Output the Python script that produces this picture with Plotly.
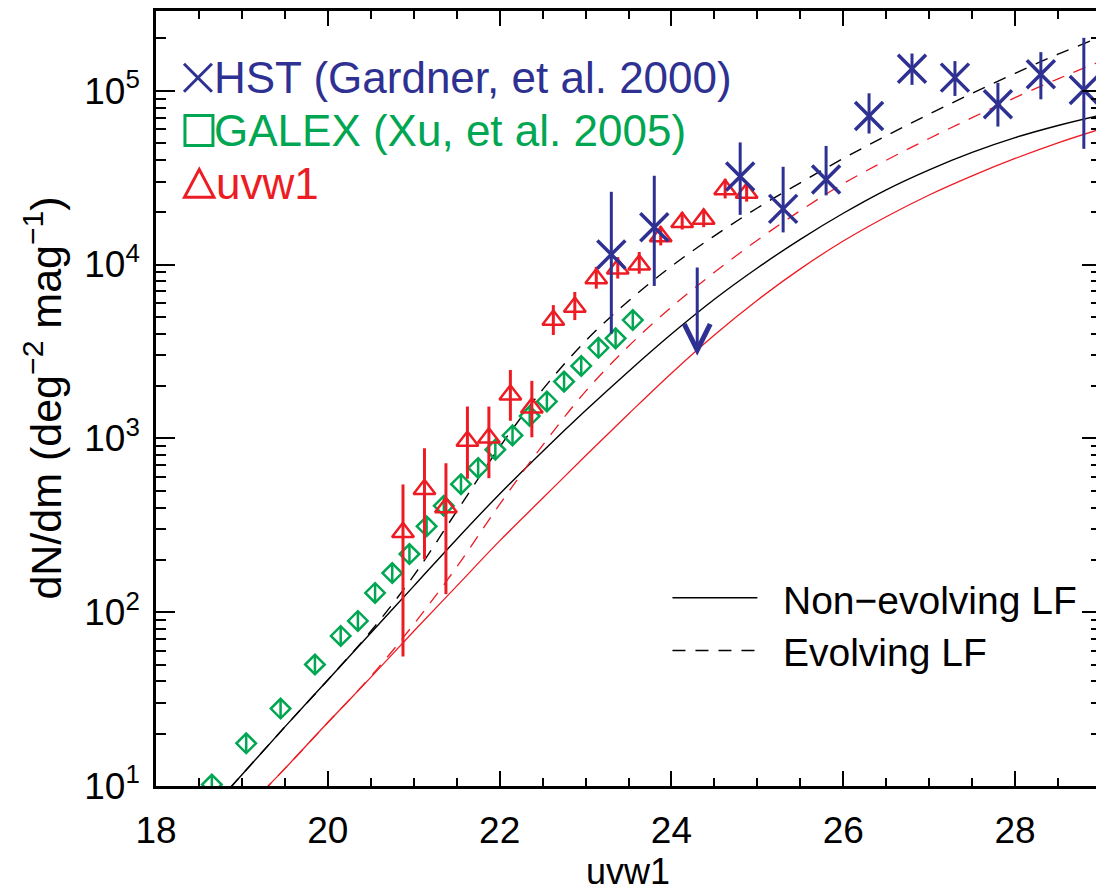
import math
import plotly.graph_objects as go

# ---------------- data ----------------
# GALEX number counts (Xu et al. 2005)
galex_mag = [18.65, 19.05, 19.45, 19.85, 20.15, 20.35, 20.55, 20.75, 20.95, 21.15, 21.35,
             21.55, 21.75, 21.95, 22.15, 22.35, 22.55, 22.75, 22.95, 23.15, 23.35, 23.55]
galex_counts = [10.2, 17.6, 27.9, 50, 73, 89, 129, 168, 216, 312, 409,
                545, 676, 861, 1040, 1343, 1630, 2120, 2610, 3320, 3760, 4790]

# uvw1 counts
uvw1_mag = [20.875, 21.125, 21.375, 21.625, 21.875, 22.125, 22.375, 22.625, 22.875,
            23.125, 23.375, 23.625, 23.875, 24.125, 24.375, 24.625, 24.875]
uvw1_counts = [288, 510, 400, 964, 1008, 1783, 1498, 4790, 5700,
               8300, 9460, 9970, 14500, 17500, 18300, 27000, 25800]
uvw1_low = [55.6, 201, 127, 586, 590, 1262, 1014, 3930, 4790,
            7260, 8300, 8850, 12880, 15900, 16400, 24000, 23000]
uvw1_high = [543, 877, 719, 1524, 1524, 2472, 2142, 5840, 6950,
             9690, 11040, 11800, 16630, 20000, 20900, 31100, 29500]

# HST counts (Gardner et al. 2000)
hst_mag = [23.3, 23.8, 24.8, 25.3, 25.8, 26.3, 26.8, 27.3, 27.8, 28.3, 28.8]
hst_counts = [11430, 16400, 32100, 20900, 30800, 71600, 133700, 118900, 83600, 124200, 100900]
hst_low = [4000, 7530, 19300, 15300, 25000, 56700, 108000, 93300, 62200, 89200, 46300]
hst_high = [26200, 32400, 50400, 36500, 48100, 96600, 163600, 148000, 111000, 166600, 201400]
# HST upper limit
hst_ul_mag = 24.3
hst_ul_top = 9800
hst_ul_tip = 2990

# model curves (log10 dN/dm)
model_mag = [18.5, 19.0, 19.5, 20.0, 20.5, 21.0, 21.5, 22.0, 22.5, 23.0, 23.5,
             24.0, 24.5, 25.0, 25.5, 26.0, 26.5, 27.0, 27.5, 28.0, 28.5, 29.0]
black_nonevol_log = [0.79, 1.065, 1.34, 1.61, 1.88, 2.15, 2.42, 2.68, 2.925, 3.16, 3.385,
                     3.60, 3.80, 3.98, 4.145, 4.295, 4.43, 4.545, 4.645, 4.73, 4.80, 4.86]
black_evol_log = [0.79, 1.065, 1.34, 1.61, 1.89, 2.21, 2.58, 2.95, 3.28, 3.56, 3.79,
                  3.99, 4.165, 4.325, 4.47, 4.61, 4.74, 4.865, 4.985, 5.10, 5.21, 5.31]
red_nonevol_log = [0.58, 0.843, 1.10, 1.365, 1.625, 1.89, 2.15, 2.41, 2.655, 2.90, 3.14,
                   3.375, 3.595, 3.795, 3.975, 4.135, 4.275, 4.40, 4.51, 4.61, 4.70, 4.78]
red_evol_log = [0.58, 0.843, 1.10, 1.365, 1.63, 1.93, 2.26, 2.62, 2.96, 3.27, 3.53,
                3.755, 3.955, 4.14, 4.31, 4.465, 4.60, 4.725, 4.845, 4.96, 5.068, 5.17]

x_ticks = [18, 20, 22, 24, 26, 28]
y_ticks = [10, 100, 1000, 10000, 100000]
y_ticktext = ["10<sup>1</sup>", "10<sup>2</sup>", "10<sup>3</sup>", "10<sup>4</sup>", "10<sup>5</sup>"]

# ---------------- style ----------------
BLUE = "#2E3192"
GREEN = "#00A651"
RED = "#ED1C24"
FONT = "Liberation Sans"

OFF = 8                      # page body margin of the html page
W, H = 1104 - OFF, 894 - OFF
ML, MR, MT, MB = 148, 2, 0, 108
PW, PH = W - ML - MR, H - MT - MB


def px(xp):
    """page pixel x -> paper fraction"""
    return (xp - OFF - ML) / PW


def py(yp):
    """page pixel y -> paper fraction"""
    return (H - MB - (yp - OFF)) / PH


fig = go.Figure()


def curve(logvals, color, dash, width):
    fig.add_trace(go.Scatter(
        x=model_mag, y=[10 ** v for v in logvals], mode="lines",
        line=dict(color=color, width=width, dash=dash, shape="spline", smoothing=1.0),
        showlegend=False, hoverinfo="skip"))


curve(black_nonevol_log, "black", "solid", 1.4)
curve(black_evol_log, "black", "13px,10px", 1.4)
curve(red_nonevol_log, RED, "solid", 1.3)
curve(red_evol_log, RED, "13px,10px", 1.3)

# GALEX diamonds with a vertical bar through them
fig.add_trace(go.Scatter(
    x=galex_mag, y=galex_counts, mode="markers",
    marker=dict(symbol="diamond-open", size=15, color=GREEN, line=dict(color=GREEN, width=2.5)),
    showlegend=False))
fig.add_trace(go.Scatter(
    x=galex_mag, y=galex_counts, mode="markers",
    marker=dict(symbol="line-ns-open", size=13, color=GREEN, line=dict(color=GREEN, width=2.5)),
    showlegend=False))

# uvw1 triangles
fig.add_trace(go.Scatter(
    x=uvw1_mag, y=uvw1_counts, mode="markers",
    error_y=dict(type="data", symmetric=False,
                 array=[h - c for h, c in zip(uvw1_high, uvw1_counts)],
                 arrayminus=[c - l for c, l in zip(uvw1_counts, uvw1_low)],
                 color=RED, thickness=3, width=0),
    marker=dict(symbol="triangle-up-open", size=19, color=RED, line=dict(color=RED, width=2.5)),
    showlegend=False))

# HST crosses
fig.add_trace(go.Scatter(
    x=hst_mag, y=hst_counts, mode="markers",
    error_y=dict(type="data", symmetric=False,
                 array=[h - c for h, c in zip(hst_high, hst_counts)],
                 arrayminus=[c - l for c, l in zip(hst_counts, hst_low)],
                 color=BLUE, thickness=3, width=0),
    marker=dict(symbol="x-thin-open", size=28, color=BLUE, line=dict(color=BLUE, width=3.5)),
    showlegend=False))

# HST upper limit arrow
fig.add_annotation(
    x=hst_ul_mag, y=math.log10(hst_ul_tip), xref="x", yref="y",
    ax=hst_ul_mag, ay=math.log10(hst_ul_top), axref="x", ayref="y",
    text="", showarrow=True, arrowhead=5, arrowsize=1.7, arrowwidth=3,
    arrowcolor=BLUE, standoff=0)

# ---------------- legends (drawn) ----------------
shapes = []
# X symbol
shapes.append(dict(type="line", xref="paper", yref="paper", x0=px(184), y0=py(61), x1=px(212), y1=py(89),
                   line=dict(color=BLUE, width=3)))
shapes.append(dict(type="line", xref="paper", yref="paper", x0=px(184), y0=py(89), x1=px(212), y1=py(61),
                   line=dict(color=BLUE, width=3)))
# square
shapes.append(dict(type="rect", xref="paper", yref="paper", x0=px(185), y0=py(113), x1=px(213), y1=py(143),
                   line=dict(color=GREEN, width=3)))
# triangle
shapes.append(dict(type="path", xref="paper", yref="paper",
                   path="M {} {} L {} {} L {} {} Z".format(px(184.5), py(195), px(214), py(195), px(199.3), py(167)),
                   line=dict(color=RED, width=3)))
# model line samples
shapes.append(dict(type="line", xref="paper", yref="paper", x0=px(673), y0=py(597), x1=px(758), y1=py(597),
                   line=dict(color="black", width=1.5)))
shapes.append(dict(type="line", xref="paper", yref="paper", x0=px(673), y0=py(650), x1=px(758), y1=py(650),
                   line=dict(color="black", width=1.5, dash="13px,10px")))

annots = [
    dict(text="HST (Gardner, et al. 2000)", x=px(212), y=py(75), color=BLUE, size=44),
    dict(text="GALEX (Xu, et al. 2005)", x=px(212), y=py(128), color=GREEN, size=44),
    dict(text="uvw1", x=px(214), y=py(181), color=RED, size=44),
    dict(text="Non\u2212evolving LF", x=px(782), y=py(600), color="black", size=39),
    dict(text="Evolving LF", x=px(782), y=py(652), color="black", size=39),
]
for a in annots:
    fig.add_annotation(text=a["text"], x=a["x"], y=a["y"], xref="paper", yref="paper",
                       xanchor="left", yanchor="middle", showarrow=False,
                       font=dict(family=FONT, size=a["size"], color=a["color"]))

# axis titles
fig.add_annotation(text="uvw1", x=px(628), y=py(894), xref="paper", yref="paper",
                   xanchor="center", yanchor="bottom", showarrow=False,
                   font=dict(family=FONT, size=36, color="black"))
fig.add_annotation(text="dN/dm (deg<sup>\u22122</sup> mag<sup>\u22121</sup>)", x=px(42), y=py(397),
                   xref="paper", yref="paper", xanchor="center", yanchor="middle",
                   textangle=-90, showarrow=False,
                   font=dict(family=FONT, size=43, color="black"))

y_minor = [m * 10 ** e for e in range(1, 6) for m in range(2, 10)]

fig.update_layout(
    width=W, height=H,
    margin=dict(l=ML, r=MR, t=MT, b=MB, pad=0),
    paper_bgcolor="white", plot_bgcolor="white",
    shapes=shapes,
    showlegend=False,
    xaxis=dict(range=[18, 29], tickmode="array", tickvals=x_ticks,
               ticks="inside", ticklen=15, tickwidth=2, tickcolor="black",
               minor=dict(tickmode="linear", tick0=18, dtick=0.5, ticks="inside", ticklen=8,
                          tickwidth=2, tickcolor="black", showgrid=False),
               showline=True, linewidth=2.5, linecolor="black", mirror="allticks",
               showgrid=False, zeroline=False, ticklabelstandoff=10,
               tickfont=dict(family=FONT, size=37, color="black")),
    yaxis=dict(type="log", range=[1, 1 + PH / 174.5], tickmode="array", tickvals=y_ticks,
               ticktext=y_ticktext,
               ticks="inside", ticklen=19, tickwidth=2, tickcolor="black",
               minor=dict(tickmode="array", tickvals=y_minor, ticks="inside", ticklen=10,
                          tickwidth=2, tickcolor="black", showgrid=False),
               showline=True, linewidth=2.5, linecolor="black", mirror="allticks",
               showgrid=False, zeroline=False, ticklabelstandoff=6,
               tickfont=dict(family=FONT, size=37, color="black")),
)

fig.write_html("out.html")
